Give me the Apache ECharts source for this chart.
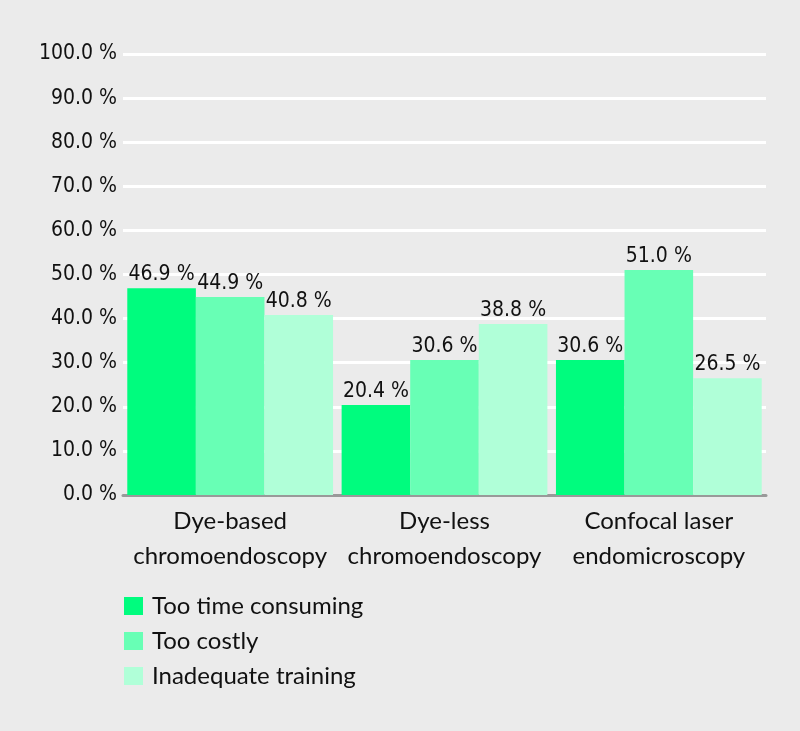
<!DOCTYPE html>
<html><head><meta charset="utf-8">
<script src="https://cdn.jsdelivr.net/npm/echarts@6/dist/echarts.min.js"></script>
<style>html,body{margin:0;padding:0;background:#ebebeb}#c{width:800px;height:731px}</style>
</head><body><div id="c"></div>
<script>
const categories = ['Dye-based\nchromoendoscopy', 'Dye-less\nchromoendoscopy', 'Confocal laser\nendomicroscopy'];
const seriesNames = ['Too time consuming', 'Too costly', 'Inadequate training'];
const tooTimeConsuming = [46.9, 20.4, 30.6];
const tooCostly = [44.9, 30.6, 51.0];
const inadequateTraining = [40.8, 38.8, 26.5];
const colors = ['#00fc7e', '#68ffb5', '#b0ffd8'];

const chart = echarts.init(document.getElementById('c'), null, {renderer: 'canvas'});
const mk = (name, data, color) => ({
  name, type: 'bar', data, barGap: '0%', barCategoryGap: '4%',
  itemStyle: {color},
  label: {show: true, position: 'top', distance: 3, color: '#111',
    fontFamily: 'DejaVu Sans Condensed, sans-serif', fontSize: 21,
    formatter: p => p.value.toFixed(1) + ' %'}
});
chart.setOption({
  backgroundColor: '#ebebeb',
  animation: false,
  grid: {left: 123, right: 34, top: 54, bottom: 236, containLabel: false},
  legend: {
    orient: 'vertical', left: 124, top: 594, padding: 0, itemWidth: 19, itemHeight: 18, itemGap: 11,
    icon: 'rect',
    textStyle: {fontFamily: 'Lato, sans-serif', fontSize: 24, color: '#111', padding: [0, 0, 0, 4]},
    data: seriesNames
  },
  xAxis: {
    type: 'category', data: categories,
    axisLine: {lineStyle: {color: '#999', width: 3}},
    axisTick: {show: false},
    axisLabel: {interval: 0, fontFamily: 'Lato, sans-serif', fontSize: 24, color: '#111', lineHeight: 35, margin: 9}
  },
  yAxis: {
    type: 'value', min: 0, max: 100, interval: 10,
    axisLine: {show: false}, axisTick: {show: false},
    splitLine: {lineStyle: {color: '#ffffff', width: 3}},
    axisLabel: {fontFamily: 'DejaVu Sans Condensed, sans-serif', fontSize: 21, color: '#111', margin: 6,
      formatter: v => v.toFixed(1) + ' %'}
  },
  series: [
    mk(seriesNames[0], tooTimeConsuming, colors[0]),
    mk(seriesNames[1], tooCostly, colors[1]),
    mk(seriesNames[2], inadequateTraining, colors[2])
  ]
});
</script></body></html>
